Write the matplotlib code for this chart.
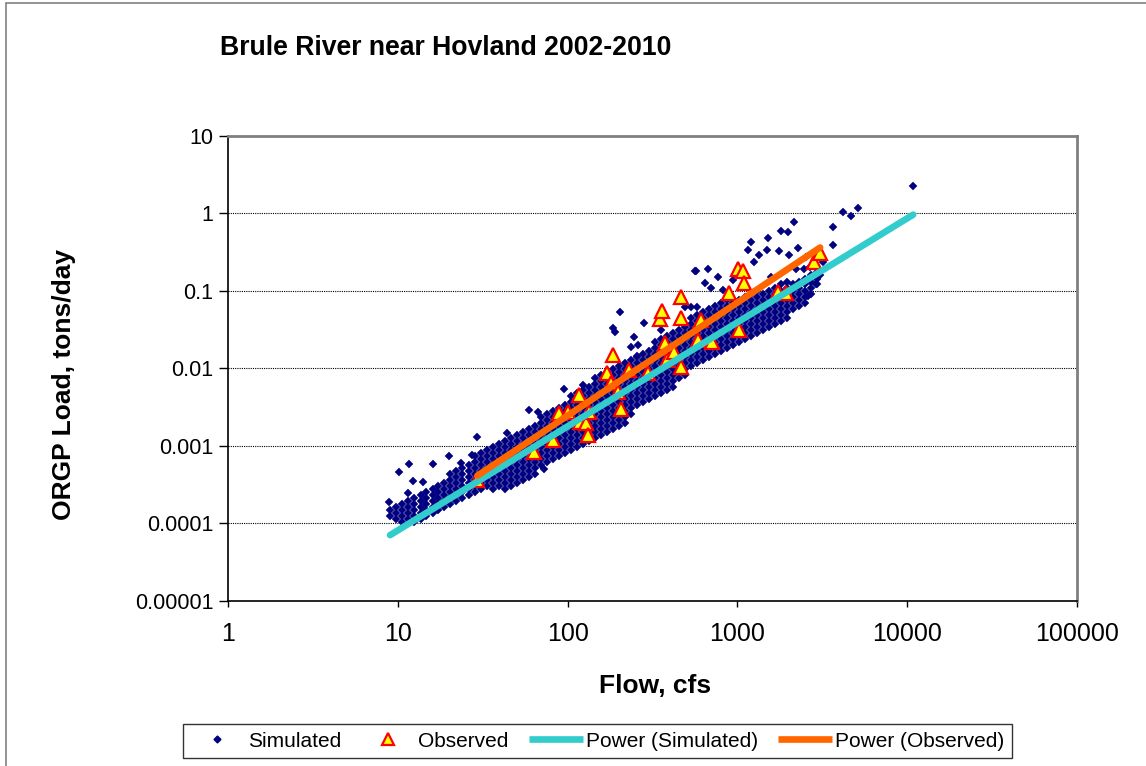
import matplotlib
matplotlib.use('Agg')
import matplotlib.pyplot as plt
from matplotlib.lines import Line2D
from matplotlib.patches import Rectangle

plt.rcParams['font.family'] = ['Liberation Sans', 'DejaVu Sans']

# simulated daily loads, grouped by flow
sim_col_flow = [9.03, 9.80, 10.6, 11.5, 12.5, 13.6, 14.7, 16.0, 17.3, 18.8,
                20.4, 22.1, 24.0, 26.1, 28.3, 30.7, 33.3, 36.1, 39.2, 42.5,
                46.1, 50.0, 54.3, 58.9, 63.9, 69.3, 75.2, 81.6, 88.5, 96.1,
                104, 113, 123, 133, 144, 157, 170, 184, 200, 217,
                235, 255, 277, 301, 326, 354, 384, 416, 452, 490,
                532, 577, 626, 679, 737, 799, 867, 941, 1021, 1107,
                1201, 1304, 1414, 1534, 1665, 1806, 1960, 2126, 2307, 2502,
                2715, 2945]
sim_col_load = [
    [1.24e-4, 1.48e-4],
    [1.13e-4, 1.36e-4, 1.62e-4],
    [1.04e-4, 1.24e-4, 1.48e-4, 1.77e-4],
    [1.13e-4, 1.36e-4, 1.62e-4, 1.94e-4],
    [1.04e-4, 1.24e-4, 1.48e-4, 1.77e-4, 2.12e-4],
    [1.13e-4, 1.36e-4, 1.62e-4, 1.94e-4, 2.32e-4],
    [1.24e-4, 1.48e-4, 1.77e-4, 2.12e-4, 2.53e-4],
    [1.36e-4, 1.62e-4, 1.94e-4, 2.32e-4, 2.77e-4],
    [1.48e-4, 1.77e-4, 2.12e-4, 2.53e-4, 3.03e-4],
    [1.62e-4, 1.94e-4, 2.32e-4, 2.77e-4, 3.31e-4],
    [1.77e-4, 2.12e-4, 2.53e-4, 3.03e-4, 3.62e-4, 4.33e-4],
    [1.94e-4, 2.32e-4, 2.77e-4, 3.31e-4, 3.96e-4, 4.73e-4],
    [2.12e-4, 2.53e-4, 3.03e-4, 3.62e-4, 4.33e-4, 5.18e-4],
    [2.32e-4, 2.77e-4, 3.31e-4, 3.96e-4, 4.73e-4, 5.66e-4],
    [2.53e-4, 3.03e-4, 3.62e-4, 4.33e-4, 5.18e-4, 6.19e-4, 7.40e-4],
    [2.77e-4, 3.31e-4, 3.96e-4, 4.73e-4, 5.66e-4, 6.77e-4, 8.09e-4],
    [3.03e-4, 3.62e-4, 4.33e-4, 5.18e-4, 6.19e-4, 7.40e-4, 8.85e-4],
    [2.77e-4, 3.31e-4, 3.96e-4, 4.73e-4, 5.66e-4, 6.77e-4, 8.09e-4, 9.68e-4],
    [3.03e-4, 3.62e-4, 4.33e-4, 5.18e-4, 6.19e-4, 7.40e-4, 8.85e-4, 1.06e-3],
    [2.77e-4, 3.31e-4, 3.96e-4, 4.73e-4, 5.66e-4, 6.77e-4, 8.09e-4, 9.68e-4, 1.16e-3],
    [3.03e-4, 3.62e-4, 4.33e-4, 5.18e-4, 6.19e-4, 7.40e-4, 8.85e-4, 1.06e-3, 1.27e-3],
    [3.31e-4, 3.96e-4, 4.73e-4, 5.66e-4, 6.77e-4, 8.09e-4, 9.68e-4, 1.16e-3, 1.38e-3],
    [3.62e-4, 4.33e-4, 5.18e-4, 6.19e-4, 7.40e-4, 8.85e-4, 1.06e-3, 1.27e-3, 1.51e-3],
    [3.96e-4, 4.73e-4, 5.66e-4, 6.77e-4, 8.09e-4, 9.68e-4, 1.16e-3, 1.38e-3, 1.65e-3],
    [4.33e-4, 5.18e-4, 6.19e-4, 7.40e-4, 8.85e-4, 1.06e-3, 1.27e-3, 1.51e-3, 1.81e-3],
    [5.66e-4, 6.77e-4, 8.09e-4, 9.68e-4, 1.16e-3, 1.38e-3, 1.65e-3, 1.98e-3, 2.37e-3],
    [6.19e-4, 7.40e-4, 8.85e-4, 1.06e-3, 1.27e-3, 1.51e-3, 1.81e-3, 2.16e-3, 2.59e-3],
    [6.77e-4, 8.09e-4, 9.68e-4, 1.16e-3, 1.38e-3, 1.65e-3, 1.98e-3, 2.37e-3, 2.83e-3],
    [7.40e-4, 8.85e-4, 1.06e-3, 1.27e-3, 1.51e-3, 1.81e-3, 2.16e-3, 2.59e-3, 3.09e-3],
    [8.09e-4, 9.68e-4, 1.16e-3, 1.38e-3, 1.65e-3, 1.98e-3, 2.37e-3, 2.83e-3, 3.38e-3],
    [8.85e-4, 1.06e-3, 1.27e-3, 1.51e-3, 1.81e-3, 2.16e-3, 2.59e-3, 3.09e-3, 3.70e-3, 4.42e-3],
    [9.68e-4, 1.16e-3, 1.38e-3, 1.65e-3, 1.98e-3, 2.37e-3, 2.83e-3, 3.38e-3, 4.04e-3, 4.83e-3],
    [1.06e-3, 1.27e-3, 1.51e-3, 1.81e-3, 2.16e-3, 2.59e-3, 3.09e-3, 3.70e-3, 4.42e-3, 5.29e-3],
    [1.16e-3, 1.38e-3, 1.65e-3, 1.98e-3, 2.37e-3, 2.83e-3, 3.38e-3, 4.04e-3, 4.83e-3, 5.78e-3],
    [1.27e-3, 1.51e-3, 1.81e-3, 2.16e-3, 2.59e-3, 3.09e-3, 3.70e-3, 4.42e-3, 5.29e-3, 6.32e-3, 7.56e-3],
    [1.38e-3, 1.65e-3, 1.98e-3, 2.37e-3, 2.83e-3, 3.38e-3, 4.04e-3, 4.83e-3, 5.78e-3, 6.91e-3, 8.26e-3],
    [1.51e-3, 1.81e-3, 2.16e-3, 2.59e-3, 3.09e-3, 3.70e-3, 4.42e-3, 5.29e-3, 6.32e-3, 7.56e-3, 9.04e-3],
    [1.65e-3, 1.98e-3, 2.37e-3, 2.83e-3, 3.38e-3, 4.04e-3, 4.83e-3, 5.78e-3, 6.91e-3, 8.26e-3, 9.88e-3],
    [1.81e-3, 2.16e-3, 2.59e-3, 3.09e-3, 3.70e-3, 4.42e-3, 5.29e-3, 6.32e-3, 7.56e-3, 9.04e-3, 1.08e-2],
    [1.98e-3, 2.37e-3, 2.83e-3, 3.38e-3, 4.04e-3, 4.83e-3, 5.78e-3, 6.91e-3, 8.26e-3, 9.88e-3, 1.18e-2],
    [2.59e-3, 3.09e-3, 3.70e-3, 4.42e-3, 5.29e-3, 6.32e-3, 7.56e-3, 9.04e-3, 1.08e-2, 1.29e-2],
    [3.38e-3, 4.04e-3, 4.83e-3, 5.78e-3, 6.91e-3, 8.26e-3, 9.88e-3, 1.18e-2, 1.41e-2],
    [3.70e-3, 4.42e-3, 5.29e-3, 6.32e-3, 7.56e-3, 9.04e-3, 1.08e-2, 1.29e-2, 1.55e-2],
    [4.04e-3, 4.83e-3, 5.78e-3, 6.91e-3, 8.26e-3, 9.88e-3, 1.18e-2, 1.41e-2, 1.69e-2],
    [4.42e-3, 5.29e-3, 6.32e-3, 7.56e-3, 9.04e-3, 1.08e-2, 1.29e-2, 1.55e-2, 1.85e-2, 2.21e-2],
    [4.83e-3, 5.78e-3, 6.91e-3, 8.26e-3, 9.88e-3, 1.18e-2, 1.41e-2, 1.69e-2, 2.02e-2, 2.42e-2],
    [5.29e-3, 6.32e-3, 7.56e-3, 9.04e-3, 1.08e-2, 1.29e-2, 1.55e-2, 1.85e-2, 2.21e-2, 2.64e-2],
    [5.78e-3, 6.91e-3, 8.26e-3, 9.88e-3, 1.18e-2, 1.41e-2, 1.69e-2, 2.02e-2, 2.42e-2, 2.89e-2],
    [7.56e-3, 9.04e-3, 1.08e-2, 1.29e-2, 1.55e-2, 1.85e-2, 2.21e-2, 2.64e-2, 3.16e-2],
    [8.26e-3, 9.88e-3, 1.18e-2, 1.41e-2, 1.69e-2, 2.02e-2, 2.42e-2, 2.89e-2, 3.45e-2],
    [1.08e-2, 1.29e-2, 1.55e-2, 1.85e-2, 2.21e-2, 2.64e-2, 3.16e-2, 3.78e-2, 4.51e-2],
    [1.18e-2, 1.41e-2, 1.69e-2, 2.02e-2, 2.42e-2, 2.89e-2, 3.45e-2, 4.13e-2, 4.94e-2],
    [1.29e-2, 1.55e-2, 1.85e-2, 2.21e-2, 2.64e-2, 3.16e-2, 3.78e-2, 4.51e-2, 5.40e-2],
    [1.41e-2, 1.69e-2, 2.02e-2, 2.42e-2, 2.89e-2, 3.45e-2, 4.13e-2, 4.94e-2, 5.90e-2],
    [1.55e-2, 1.85e-2, 2.21e-2, 2.64e-2, 3.16e-2, 3.78e-2, 4.51e-2, 5.40e-2, 6.45e-2],
    [1.69e-2, 2.02e-2, 2.42e-2, 2.89e-2, 3.45e-2, 4.13e-2, 4.94e-2, 5.90e-2, 7.06e-2],
    [1.85e-2, 2.21e-2, 2.64e-2, 3.16e-2, 3.78e-2, 4.51e-2, 5.40e-2, 6.45e-2, 7.72e-2],
    [2.02e-2, 2.42e-2, 2.89e-2, 3.45e-2, 4.13e-2, 4.94e-2, 5.90e-2, 7.06e-2],
    [2.21e-2, 2.64e-2, 3.16e-2, 3.78e-2, 4.51e-2, 5.40e-2, 6.45e-2, 7.72e-2],
    [2.42e-2, 2.89e-2, 3.45e-2, 4.13e-2, 4.94e-2, 5.90e-2, 7.06e-2, 8.44e-2],
    [2.64e-2, 3.16e-2, 3.78e-2, 4.51e-2, 5.40e-2, 6.45e-2, 7.72e-2, 9.23e-2],
    [2.89e-2, 3.45e-2, 4.13e-2, 4.94e-2, 5.90e-2, 7.06e-2, 8.44e-2, 0.101],
    [3.16e-2, 3.78e-2, 4.51e-2, 5.40e-2, 6.45e-2, 7.72e-2, 9.23e-2],
    [3.45e-2, 4.13e-2, 4.94e-2, 5.90e-2, 7.06e-2, 8.44e-2, 0.101],
    [3.78e-2, 4.51e-2, 5.40e-2, 6.45e-2, 7.72e-2, 9.23e-2, 0.110],
    [4.13e-2, 4.94e-2, 5.90e-2, 7.06e-2, 8.44e-2, 0.101, 0.121],
    [4.51e-2, 5.40e-2, 6.45e-2, 7.72e-2, 9.23e-2, 0.110, 0.132],
    [5.90e-2, 7.06e-2, 8.44e-2, 0.101, 0.121],
    [6.45e-2, 7.72e-2, 9.23e-2, 0.110, 0.132],
    [7.06e-2, 8.44e-2, 0.101, 0.121, 0.144],
    [9.23e-2, 0.110, 0.132, 0.158],
    [0.121, 0.144, 0.173],
]

# scattered simulated days away from the main band
sim_extra_flow = [8.91, 10.2, 11.7, 16.0, 12.3, 14.1, 11.5, 20.1, 23.4, 27.5,
                  29.4, 43.7, 72.2, 58.9, 66.5, 94.7, 123, 203, 184, 189,
                  245, 235, 259, 255, 281, 354, 562, 670, 767, 643,
                  698, 821, 879, 490, 532, 577, 1513, 1201, 1806, 1986,
                  2154, 1153, 1339, 1494, 1757, 1251, 2013, 2275, 2536, 569,
                  941, 1576, 2214, 2677, 3660, 4193, 4673, 5140, 3660, 2905,
                  3195, 10850, 2469, 2605, 3067]
sim_extra_load = [1.88e-4, 4.60e-4, 5.83e-4, 5.83e-4, 3.51e-4, 3.41e-4, 2.46e-4, 7.40e-4, 6.01e-4, 7.62e-4,
                  1.30e-3, 1.47e-3, 5.03e-4, 2.91e-3, 2.75e-3, 5.45e-3, 6.13e-3, 5.40e-2, 3.35e-2, 2.98e-2,
                  2.56e-2, 1.90e-2, 2.02e-2, 1.46e-2, 3.89e-2, 3.16e-2, 0.178, 0.189, 0.153, 0.128,
                  0.110, 0.104, 8.96e-2, 6.27e-2, 6.27e-2, 6.27e-2, 0.489, 0.434, 0.585, 0.568,
                  0.765, 0.342, 0.295, 0.342, 0.323, 0.239, 0.295, 0.363, 0.270, 0.178,
                  0.140, 0.149, 0.189, 0.206, 0.659, 1.03, 0.915, 1.16, 0.386, 0.121,
                  0.239, 2.24, 0.189, 8.70e-2, 0.158]

# observed samples
obs_flow = [29.4, 63, 81.6, 88.5, 100, 116, 119, 128, 131, 133,
            170, 179, 184, 197, 205, 229, 297, 349, 359, 374,
            383, 422, 464, 464, 464, 585, 609, 707, 891, 1007,
            1021, 1077, 1092, 1734, 1932, 2826, 3069]
obs_load = [3.62e-4, 8.34e-4, 1.19e-3, 2.67e-3, 2.75e-3, 4.55e-3, 2.04e-3, 1.98e-3, 1.38e-3, 2.75e-3,
            8.77e-3, 6.52e-3, 0.0150, 4.98e-3, 3.0e-3, 9.6e-3, 8.77e-3, 0.0439, 0.0556, 0.0214,
            0.0129, 0.0164, 0.0843, 0.0452, 0.0105, 0.0234, 0.0426, 0.0221, 0.095, 0.189,
            0.0316, 0.178, 0.128, 0.098, 0.095, 0.239, 0.313]

# power trendline end points
pow_sim_flow = [9.0, 10850]
pow_sim_load = [7.0e-5, 0.966]
pow_obs_flow = [29.4, 3069]
pow_obs_load = [4.1e-4, 0.363]

x_ticks = [1, 10, 100, 1000, 10000, 100000]
x_labels = ['1', '10', '100', '1000', '10000', '100000']
y_ticks = [1e-5, 1e-4, 1e-3, 1e-2, 1e-1, 1, 10]
y_labels = ['0.00001', '0.0001', '0.001', '0.01', '0.1', '1', '10']

sim_flow = []
sim_load = []
for f, loads in zip(sim_col_flow, sim_col_load):
    sim_flow += [f] * len(loads)
    sim_load += loads
sim_flow += sim_extra_flow
sim_load += sim_extra_load

fig = plt.figure(figsize=(11.46, 7.66), dpi=100)
ax = fig.add_axes([0.199, 0.216, 0.7408, 0.6064])

navy = '#000080'
cyan = '#33CCCC'
orange = '#FF6600'

ax.plot(sim_flow, sim_load, linestyle='none', marker='D', markersize=4.0,
        markerfacecolor=navy, markeredgecolor=navy, markeredgewidth=0.3, zorder=3)
ax.plot(obs_flow, obs_load, linestyle='none', marker='^', markersize=10,
        markerfacecolor='#FFFF00', markeredgecolor='#FF0000', markeredgewidth=1.6, zorder=4)
ax.plot(pow_sim_flow, pow_sim_load, color=cyan, linewidth=4.8,
        solid_capstyle='round', zorder=5)
ax.plot(pow_obs_flow, pow_obs_load, color=orange, linewidth=4.8,
        solid_capstyle='round', zorder=6)

ax.set_xscale('log')
ax.set_yscale('log')
ax.set_xlim(1, 100000)
ax.set_ylim(1e-5, 10)
ax.set_xticks(x_ticks)
ax.set_xticklabels(x_labels)
ax.set_yticks(y_ticks)
ax.set_yticklabels(y_labels)
ax.minorticks_off()
ax.tick_params(axis='x', direction='out', length=4.5, width=1, labelsize=18, pad=11)
ax.tick_params(axis='y', direction='out', length=6.5, width=1, labelsize=15.5, pad=4)

ax.grid(True, axis='y', color='black', linestyle=(0, (1, 1)), linewidth=0.8)
ax.set_axisbelow(True)
for side in ['left', 'bottom']:
    ax.spines[side].set_color('black')
    ax.spines[side].set_linewidth(1.2)
for side in ['top', 'right']:
    ax.spines[side].set_color('#808080')
    ax.spines[side].set_linewidth(2)

fig.text(220 / 1146, 1 - 48 / 766, 'Brule River near Hovland 2002-2010',
         ha='left', va='center', fontsize=19.2, fontweight='bold')
fig.text(655 / 1146, 1 - 686 / 766, 'Flow, cfs',
         ha='center', va='center', fontsize=19, fontweight='bold')
fig.text(64 / 1146, 1 - 384 / 766, 'ORGP Load, tons/day', rotation=90,
         ha='center', va='center', fontsize=19, fontweight='bold')

# outer chart frame
fig.add_artist(Rectangle((6 / 1146, -0.05), 1.2, 1.05 - 3 / 766, transform=fig.transFigure,
                         fill=False, edgecolor='#808080', linewidth=1.2))

handles = [
    Line2D([], [], linestyle='none', marker='D', markersize=3.5,
           markerfacecolor=navy, markeredgecolor=navy),
    Line2D([], [], linestyle='none', marker='^', markersize=8,
           markerfacecolor='#FFFF00', markeredgecolor='#FF0000', markeredgewidth=1.6),
    Line2D([], [], color=cyan, linewidth=4.8, solid_capstyle='butt'),
    Line2D([], [], color=orange, linewidth=4.8, solid_capstyle='butt'),
]
labels = ['Simulated', 'Observed', 'Power (Simulated)', 'Power (Observed)']
leg = fig.legend(handles, labels, loc='lower left',
                 bbox_to_anchor=(183 / 1146, 8 / 766, 829 / 1146, 40 / 766),
                 mode='expand', ncol=4, fontsize=15, frameon=True, fancybox=False,
                 handlelength=2.6, handletextpad=0.15, columnspacing=0.2,
                 borderaxespad=0, borderpad=0.35)
leg.get_frame().set_edgecolor('black')
leg.get_frame().set_linewidth(1.0)

fig.savefig('out.png', dpi=100)
